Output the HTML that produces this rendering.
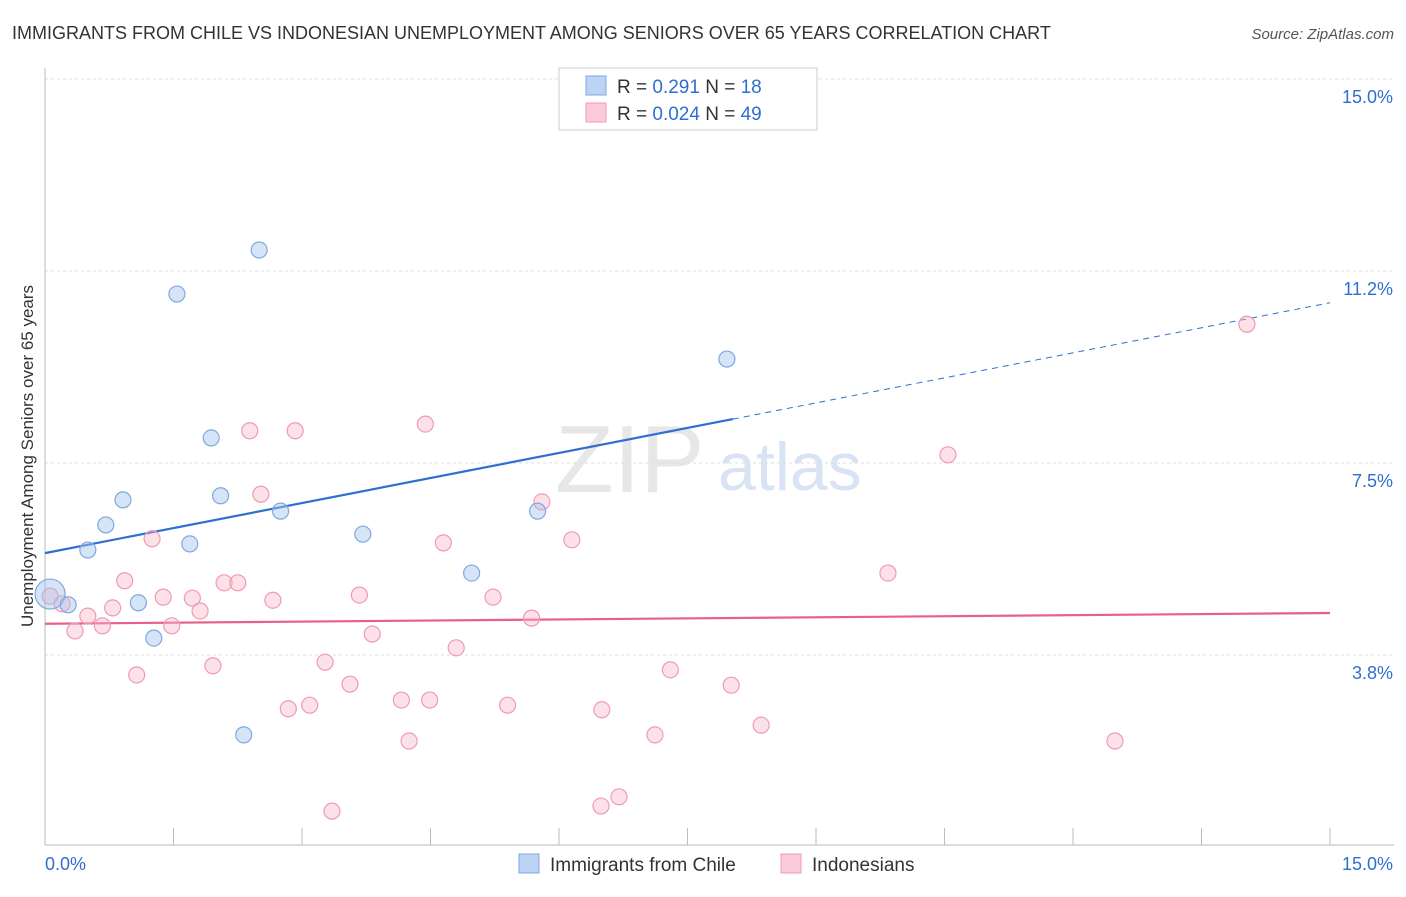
<!DOCTYPE html>
<html><head><meta charset="utf-8"><style>
body{margin:0;background:#fff;font-family:"Liberation Sans",sans-serif;}
svg text{font-family:"Liberation Sans",sans-serif;}
</style></head><body>
<svg id="chart" width="1406" height="892" xmlns="http://www.w3.org/2000/svg">
<text x="12" y="39" font-size="18" fill="#333">IMMIGRANTS FROM CHILE VS INDONESIAN UNEMPLOYMENT AMONG SENIORS OVER 65 YEARS CORRELATION CHART</text>
<text x="1394" y="39" font-size="15" fill="#555" text-anchor="end" font-style="italic">Source: ZipAtlas.com</text>
<text transform="translate(33,456) rotate(-90)" font-size="17" fill="#333" text-anchor="middle">Unemployment Among Seniors over 65 years</text>
<g>
<text x="555" y="492" font-size="96" fill="#ddd" font-family="Liberation Serif" opacity="0.7">ZIP</text>
<text x="718" y="490" font-size="68" fill="#c8d8ef" opacity="0.7">atlas</text>
</g>
<g id="grid"></g>
<g id="axes"></g>
<g id="trends"></g>
<g id="points"></g>
<g>
<rect x="559" y="68" width="258" height="62" fill="#fff" stroke="#ccc"/>
<rect x="586" y="76" width="20" height="19" fill="#bcd3f5" stroke="#7fa8e0"/>
<rect x="586" y="103" width="20" height="19" fill="#fbcbd9" stroke="#f09ab5"/>
<text x="617" y="93" font-size="19" fill="#333">R = <tspan fill="#2e6fd0"> 0.291</tspan>   N = <tspan fill="#2e6fd0"> 18</tspan></text>
<text x="617" y="120" font-size="19" fill="#333">R = <tspan fill="#2e6fd0">0.024</tspan>   N = <tspan fill="#2e6fd0">49</tspan></text>
</g>
<g>
<rect x="519" y="854" width="20" height="19" fill="#bcd3f5" stroke="#7fa8e0"/>
<text x="550" y="871" font-size="19" fill="#333">Immigrants from Chile</text>
<rect x="781" y="854" width="20" height="19" fill="#fbcbd9" stroke="#f09ab5"/>
<text x="812" y="871" font-size="19" fill="#333">Indonesians</text>
</g>
</svg>
<script>
const yTicks=[3.75,7.5,11.25,15];
const yTickLabels=["3.8%","7.5%","11.2%","15.0%"];
const xTickLabels=["0.0%","15.0%"];
const chileX=[0.06,0.27,0.50,0.71,0.91,1.09,1.27,1.54,1.69,1.94,2.05,2.32,2.50,2.75,3.71,4.98,5.75,7.96];
const chileY=[4.94,4.73,5.80,6.29,6.78,4.77,4.08,10.80,5.92,7.99,6.86,2.19,11.66,6.56,6.11,5.35,6.56,9.53];
const indoX=[0.06,0.20,0.35,0.50,0.67,0.79,0.93,1.07,1.25,1.38,1.48,1.72,1.81,1.96,2.09,2.25,2.39,2.52,2.66,2.84,2.92,3.09,3.27,3.35,3.56,3.67,3.82,4.16,4.25,4.44,4.49,4.65,4.80,5.23,5.40,5.68,5.80,6.15,6.49,6.50,6.70,7.12,7.30,8.01,8.36,9.84,10.54,12.49,14.03];
const indoY=[4.90,4.75,4.22,4.51,4.32,4.67,5.20,3.36,6.02,4.88,4.32,4.86,4.61,3.54,5.16,5.16,8.13,6.89,4.82,2.70,8.13,2.77,3.61,0.70,3.18,4.92,4.16,2.87,2.07,8.26,2.87,5.94,3.89,4.88,2.77,4.47,6.74,6.00,0.80,2.68,0.98,2.19,3.46,3.16,2.38,5.35,7.66,2.07,10.21];
const chileTrend=[5.74,10.63];
const chileSolidEnd=8.03;
const indoTrend=[4.36,4.57];
const NS="http://www.w3.org/2000/svg";
const X=v=>45+v/15*1285;
const Y=v=>847-v*51.2;
function mk(tag,attrs,parent){const e=document.createElementNS(NS,tag);for(const k in attrs)e.setAttribute(k,attrs[k]);document.getElementById(parent).appendChild(e);return e;}
yTicks.forEach((t,i)=>{
 const g=mk('line',{x1:45,x2:1394,y1:Y(t),y2:Y(t),stroke:'#ddd','stroke-dasharray':'3,3'},'grid');
 
 
 const l=mk('text',{x:1393,y:Y(t)+24,'font-size':18,fill:'#2e6fd0','text-anchor':'end'},'grid');
 l.textContent=yTickLabels[i];
 
 
});
const ax=mk('line',{x1:45,x2:1394,y1:845,y2:845,stroke:'#bbb'},'axes');


const ay=mk('line',{x1:45,x2:45,y1:68,y2:845,stroke:'#bbb'},'axes');


for(let i=0;i<=10;i++){
 const t=mk('line',{x1:X(i*1.5),x2:X(i*1.5),y1:828,y2:845,stroke:'#bbb'},'axes');
 
 
}
[[0,45,'start'],[15,1393,'end']].forEach((d,i)=>{
 const t=mk('text',{x:d[1],y:870,'font-size':18,fill:'#2e6fd0','text-anchor':d[2]},'axes');
 t.textContent=xTickLabels[i];
 
 
});
const cy=x=>chileTrend[0]+(chileTrend[1]-chileTrend[0])*x/15;
const ts=mk('line',{x1:X(0),y1:Y(cy(0)),x2:X(chileSolidEnd),y2:Y(cy(chileSolidEnd)),stroke:'#2e6fd0','stroke-width':2.2},'trends');


const td=mk('line',{x1:X(chileSolidEnd),y1:Y(cy(chileSolidEnd)),x2:X(15),y2:Y(cy(15)),stroke:'#2e6fd0','stroke-width':1,'stroke-dasharray':'6,5'},'trends');


const ti=mk('line',{x1:X(0),y1:Y(indoTrend[0]),x2:X(15),y2:Y(indoTrend[1]),stroke:'#e8608a','stroke-width':2.2},'trends');


indoX.forEach((x,i)=>{
 const c=mk('circle',{cx:X(x),cy:Y(indoY[i]),r:8,fill:'rgba(248,180,200,0.4)',stroke:'#f09ab5','stroke-width':1.2},'points');
 
 
});
chileX.forEach((x,i)=>{
 const c=mk('circle',{cx:X(x),cy:Y(chileY[i]),r:i===0?15:8,fill:'rgba(164,196,240,0.45)',stroke:'#7fa8e0','stroke-width':1.2},'points');
 
 
});
</script>
</body></html>
